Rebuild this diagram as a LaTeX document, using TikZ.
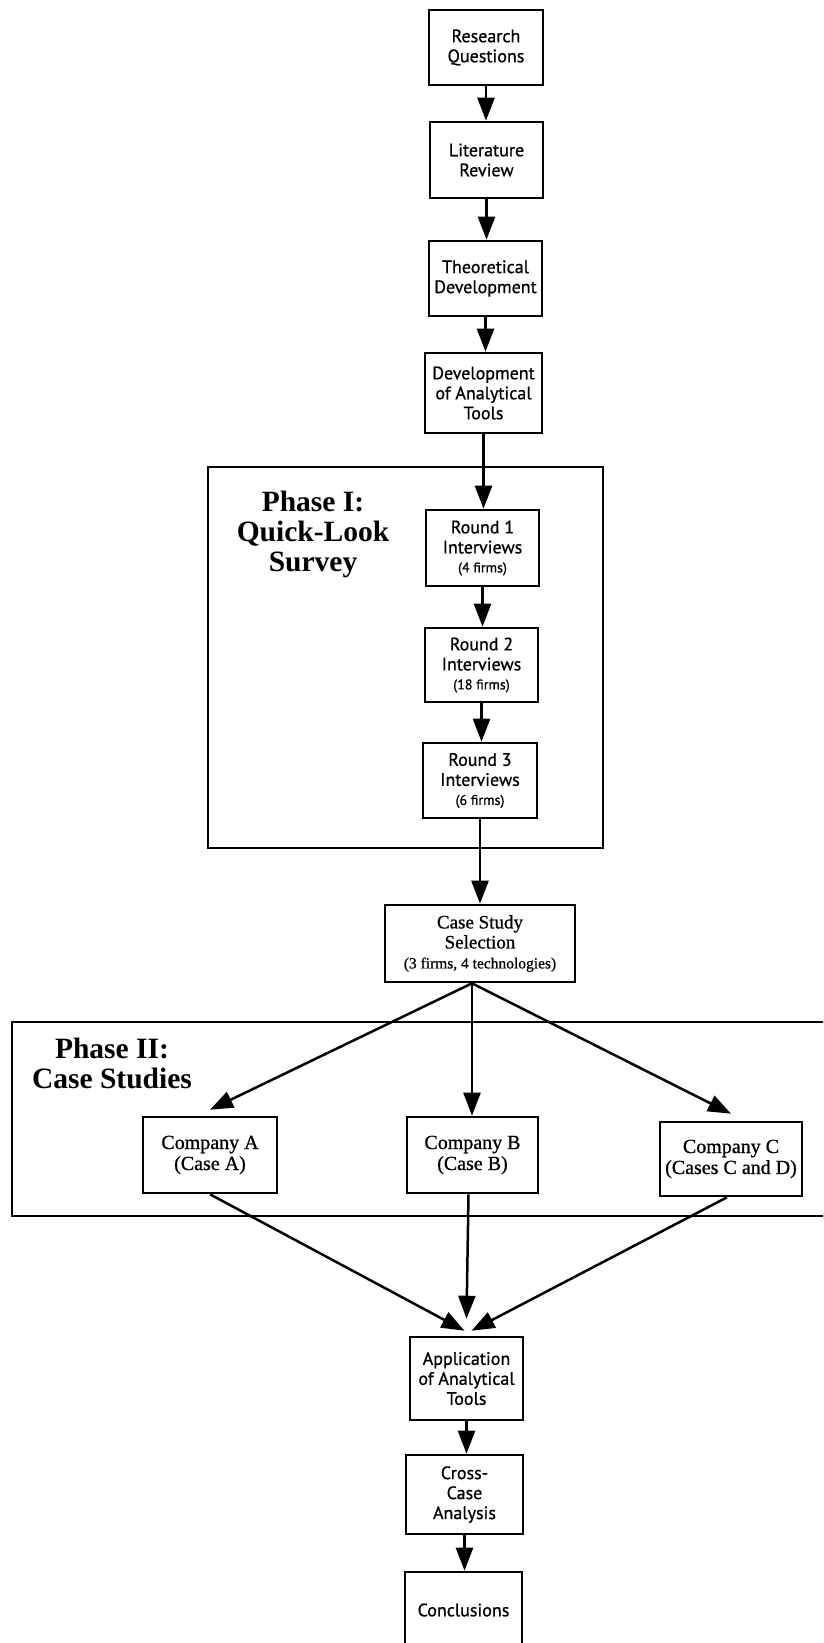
\documentclass[tikz,border=0pt]{standalone}
\usepackage{fontspec}
\setmainfont{Liberation Serif}
\newfontfamily\boxsans{PT Sans}[FakeBold=0.8]
\newfontfamily\boxserif{Liberation Serif}[FakeBold=0.8]
\usetikzlibrary{arrows.meta}

\begin{document}
\begin{tikzpicture}[x=1pt,y=-1pt,
  stagebox/.style={draw, line width=2.6pt, inner sep=0pt, align=center,
    font=\boxsans\fontsize{18}{20}\selectfont},
  casebox/.style={stagebox, font=\boxserif\fontsize{20}{21}\selectfont},
  phaselabel/.style={align=center, inner sep=0pt,
    font=\bfseries\fontsize{29.5}{30}\selectfont},
  phaseframe/.style={draw, line width=2.6pt},
  arr/.style={line width=2.5pt, -{Triangle[length=23pt,width=17pt]}}]
\useasboundingbox (0,0) rectangle (823,1643);
\clip (0,0) rectangle (823,1643);

% phase frames
\draw[phaseframe] (208,467) rectangle (603,848);
\draw[phaseframe] (12,1022) rectangle (850,1216);
\node[phaselabel] (p1) at (313,534) {Phase I:\\Quick-Look\\Survey};
\node[phaselabel] (p2) at (112,1063) {Phase II:\\Case Studies};

% preparatory stages
\node[stagebox, minimum width=114, minimum height=75] (rq) at (486,47.5) {Research\\Questions};
\node[stagebox, minimum width=113, minimum height=76] (lr) at (486.5,160) {Literature\\Review};
\node[stagebox, minimum width=113, minimum height=75] (td) at (485.5,278.5) {Theoretical\\Development};
\node[stagebox, minimum width=117, minimum height=80] (dat) at (483.5,393) {Development\\of Analytical\\Tools};

% survey rounds
\node[stagebox, minimum width=113, minimum height=76] (r1) at (482.5,548)
  {Round 1\\Interviews\\[-1pt]{\fontsize{14}{15}\selectfont(4 firms)}};
\node[stagebox, minimum width=113, minimum height=74] (r2) at (481.5,665)
  {Round 2\\Interviews\\[-1pt]{\fontsize{14}{15}\selectfont(18 firms)}};
\node[stagebox, minimum width=114, minimum height=75] (r3) at (480,780.5)
  {Round 3\\Interviews\\[-1pt]{\fontsize{14}{15}\selectfont(6 firms)}};

% case selection and cases
\node[casebox, minimum width=190, minimum height=77, font=\boxserif\fontsize{19}{20}\selectfont] (css) at (480,943.5)
  {Case Study\\Selection\\{\fontsize{15.5}{17}\selectfont(3 firms, 4 technologies)}};
\node[casebox, minimum width=134, minimum height=76] (ca) at (210,1155) {Company A\\(Case A)};
\node[casebox, minimum width=131, minimum height=76] (cb) at (472.5,1155) {Company B\\(Case B)};
\node[casebox, minimum width=142, minimum height=74] (cc) at (731,1159) {Company C\\(Cases C and D)};

% analysis stages
\node[stagebox, minimum width=113, minimum height=83] (app) at (466.5,1378.5) {Application\\of Analytical\\Tools};
\node[stagebox, minimum width=117, minimum height=79] (xc) at (464.5,1494.5) {Cross-\\Case\\Analysis};
\node[stagebox, minimum width=117, minimum height=76] (con) at (463.5,1610) {Conclusions};

% main sequence
\draw[arr] (rq.south) -- (rq.south |- lr.north);
\draw[arr] (lr.south) -- (lr.south |- td.north);
\draw[arr] (td.south) -- (td.south |- dat.north);
\draw[arr] (dat.south) -- (dat.south |- r1.north);
\draw[arr] (r1.south) -- (r1.south |- r2.north);
\draw[arr] (r2.south) -- (r2.south |- r3.north);
\draw[arr] (r3.south) -- (r3.south |- css.north);

% fan out to the cases
\coordinate (split) at ([xshift=-8pt]css.south);
\draw[arr] (split) -- ([yshift=6pt]ca.north);
\draw[arr] (split) -- (split |- cb.north);
\draw[arr] (split) -- ([yshift=7pt]cc.north);

% fan in to the analysis
\draw[arr] (ca.south) -- ([xshift=-2pt,yshift=5pt]app.north);
\draw[arr] ([xshift=-4pt]cb.south) -- ([yshift=17pt]app.north);
\draw[arr] ([xshift=-4pt]cc.south) -- ([xshift=5pt,yshift=5pt]app.north);

\draw[arr] (app.south) -- (app.south |- xc.north);
\draw[arr] (xc.south) -- (xc.south |- con.north);
\end{tikzpicture}
\end{document}
